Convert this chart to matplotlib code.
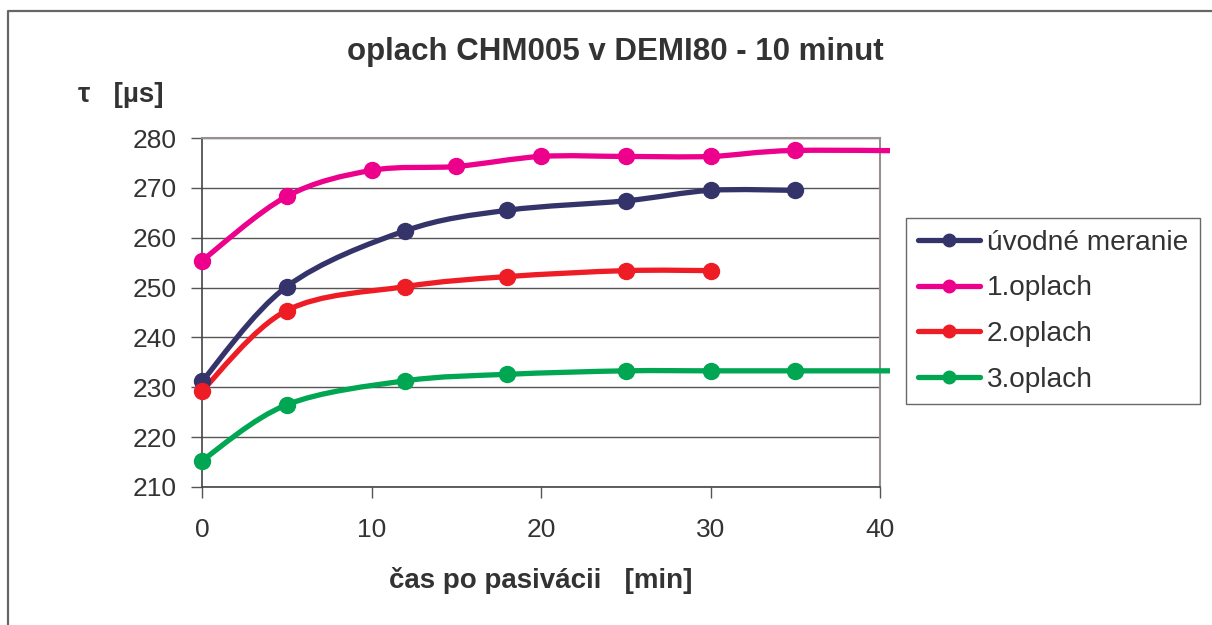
import matplotlib
matplotlib.use("Agg")
import matplotlib.pyplot as plt
from matplotlib.path import Path
from matplotlib.patches import PathPatch, Rectangle
from matplotlib.lines import Line2D

# data
series_names = ["úvodné meranie", "1.oplach", "2.oplach", "3.oplach"]
series_colors = ["#35346a", "#ec008c", "#ee1c24", "#00a651"]

x_uvod = [0, 5, 12, 18, 25, 30, 35]
y_uvod = [231.2, 250.2, 261.4, 265.5, 267.4, 269.5, 269.5]

x_opl1 = [0, 5, 10, 15, 20, 25, 30, 35, 45]
y_opl1 = [255.4, 268.3, 273.5, 274.3, 276.3, 276.3, 276.3, 277.5, 277.3]

x_opl2 = [0, 5, 12, 18, 25, 30]
y_opl2 = [229.3, 245.4, 250.2, 252.2, 253.4, 253.4]

x_opl3 = [0, 5, 12, 18, 25, 30, 35, 45]
y_opl3 = [215.3, 226.5, 231.3, 232.6, 233.3, 233.3, 233.3, 233.3]

x_ticks = [0, 10, 20, 30, 40]
y_ticks = [210, 220, 230, 240, 250, 260, 270, 280]

plt.rcParams["font.family"] = ["Liberation Sans", "DejaVu Sans"]
TXT = "#333333"


def smooth_path(xs, ys):
    # excel-like smoothed line: cubic bezier segments through the points
    pts = list(zip(xs, ys))
    n = len(pts)
    verts = [pts[0]]
    codes = [Path.MOVETO]
    for i in range(n - 1):
        p0 = pts[i - 1] if i > 0 else pts[i]
        p1 = pts[i]
        p2 = pts[i + 1]
        p3 = pts[i + 2] if i + 2 < n else pts[i + 1]
        c1 = (p1[0] + (p2[0] - p0[0]) / 6, p1[1] + (p2[1] - p0[1]) / 6)
        c2 = (p2[0] - (p3[0] - p1[0]) / 6, p2[1] - (p3[1] - p1[1]) / 6)
        verts += [c1, c2, p2]
        codes += [Path.CURVE4] * 3
    return Path(verts, codes)


fig = plt.figure(figsize=(12.12, 6.25), dpi=100)
# chart frame: only the top and left edges are inside the picture
fig.add_artist(Line2D([8 / 1212, 8 / 1212, 1.0], [0.0, 1 - 10.5 / 625, 1 - 10.5 / 625],
                      transform=fig.transFigure, color="#666666", lw=1.6))

ax = fig.add_axes([202 / 1212, 1 - 487 / 625, 678 / 1212, 349 / 625])
ax.set_xlim(0, 40)
ax.set_ylim(210, 280)

clip = Rectangle((-1, 205), 41.6, 80, transform=ax.transData)

all_x = [x_uvod, x_opl1, x_opl2, x_opl3]
all_y = [y_uvod, y_opl1, y_opl2, y_opl3]
handles = []
for xs, ys, col, name in zip(all_x, all_y, series_colors, series_names):
    patch = PathPatch(smooth_path(xs, ys), facecolor="none", edgecolor=col,
                      lw=3.8, capstyle="round", joinstyle="round", zorder=3)
    ax.add_patch(patch)
    patch.set_clip_path(clip)
    mk, = ax.plot(xs, ys, ls="none", marker="o", ms=11.5, color=col, zorder=4)
    mk.set_clip_path(clip)
    handles.append(Line2D([], [], color=col, lw=3.8, marker="o", ms=9,
                          solid_capstyle="round", label=name))

ax.set_xticks(x_ticks)
ax.set_yticks(y_ticks)
ax.yaxis.grid(True, color="#555555", lw=1.0)
ax.set_axisbelow(True)
ax.tick_params(axis="both", direction="out", length=8, width=1,
               color="#555555", labelsize=19, labelcolor=TXT)
ax.tick_params(axis="x", pad=14)
ax.tick_params(axis="y", pad=10)
for s in ["left", "bottom"]:
    ax.spines[s].set_color("#444444")
    ax.spines[s].set_linewidth(1.2)
for s in ["top", "right"]:
    ax.spines[s].set_color("#9a8f8f")
    ax.spines[s].set_linewidth(1.5)

fig.text(615 / 1212, 1 - 52 / 625, "oplach CHM005 v DEMI80 - 10 minut",
         ha="center", va="center", fontsize=22.5, fontweight="bold", color=TXT)
fig.text(78 / 1212, 1 - 95 / 625, "τ   [µs]", ha="left", va="center",
         fontsize=20, fontweight="bold", color=TXT)
fig.text(541 / 1212, 1 - 580 / 625, "čas po pasivácii   [min]",
         ha="center", va="center", fontsize=20, fontweight="bold", color=TXT)

leg = fig.legend(handles=handles, loc="upper left",
                 bbox_to_anchor=(906 / 1212, 1 - 218 / 625),
                 fontsize=20.2, frameon=True, fancybox=False,
                 edgecolor="#444444", handlelength=2.2, handletextpad=0.25,
                 labelspacing=0.7, borderpad=0.42, borderaxespad=0)
leg.get_frame().set_linewidth(1.0)
for t in leg.get_texts():
    t.set_color(TXT)

fig.savefig("out.png", dpi=100)
